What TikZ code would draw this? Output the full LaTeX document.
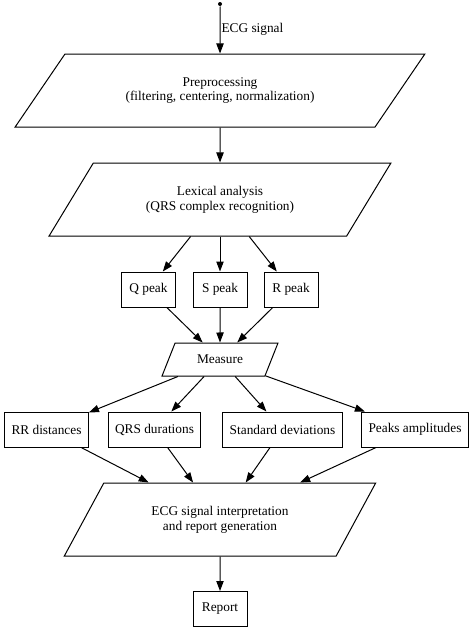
\documentclass[tikz,border=0pt]{standalone}
\usepackage{fontspec}
\setmainfont{Liberation Serif}
\usetikzlibrary{shapes.geometric,arrows.meta}

\tikzset{every picture/.style={line width=0.75pt}}
\tikzset{
  txtfont/.style={font=\fontsize{10}{11}\selectfont},
  flowbox/.style={draw, rectangle, minimum width=40.5pt, minimum height=26.25pt, inner xsep=5.25pt, inner ysep=0pt, txtfont},
  slantbox/.style={draw, trapezium, trapezium stretches=true, inner sep=0pt, align=center, txtfont},
  flowarrow/.style={-{Triangle[length=7.5pt,width=5.5pt]}}
}

\begin{document}
\begin{tikzpicture}[x=0.75pt,y=0.75pt,yscale=-1,xscale=1]
\useasboundingbox (0,0) rectangle (472,628);

%Start point
\node [circle, fill, inner sep=0pt, minimum size=3pt] (src) at (220,4) {};
% Text Node
\node [anchor=west, inner sep=0pt, txtfont] (siglbl) at (221,29) {ECG signal};

%Parallelograms
\node [slantbox, trapezium left angle=41, trapezium right angle=139, minimum width=307.5pt, minimum height=54.75pt] (prep) at (220,90.5) {Preprocessing\\(filtering, centering, normalization)};
\node [slantbox, trapezium left angle=46, trapezium right angle=134, minimum width=256.5pt, minimum height=54.75pt] (lex) at (220,199.5) {Lexical analysis\\(QRS complex recognition)};
\node [slantbox, trapezium left angle=53, trapezium right angle=127, minimum width=87pt, minimum height=24.75pt] (meas) at (220,359.5) {Measure};
\node [slantbox, trapezium left angle=49, trapezium right angle=131, minimum width=234pt, minimum height=54.75pt] (interp) at (220,519.5) {ECG signal interpretation\\and report generation};

%Peak boxes
\node [flowbox] (qpeak) at (148.5,289.5) {Q peak};
\node [flowbox] (speak) at (220,289.5) {S peak};
\node [flowbox] (rpeak) at (291,289.5) {R peak};

%Measure boxes
\node [flowbox] (rrdist) at (46.5,429.5) {RR distances};
\node [flowbox] (qrsdur) at (154.5,429.5) {QRS durations};
\node [flowbox] (stddev) at (282.5,429.5) {Standard deviations};
\node [flowbox] (peakamp) at (415,429.5) {Peaks amplitudes};

%Report
\node [flowbox] (report) at (220,609) {Report};

%Straight Lines
\draw [flowarrow] (src) -- (prep);
\draw [flowarrow] (prep) -- (lex);
\draw [flowarrow] (lex) -- (qpeak);
\draw [flowarrow] (lex) -- (speak);
\draw [flowarrow] (lex) -- (rpeak);
\draw [flowarrow] (qpeak) -- (meas);
\draw [flowarrow] (speak) -- (meas);
\draw [flowarrow] (rpeak) -- (meas);
\draw [flowarrow] (meas) -- (rrdist);
\draw [flowarrow] (meas) -- (qrsdur);
\draw [flowarrow] (meas) -- (stddev);
\draw [flowarrow] (meas) -- (peakamp);
\draw [flowarrow] (rrdist) -- (interp);
\draw [flowarrow] (qrsdur) -- (interp);
\draw [flowarrow] (stddev) -- (interp);
\draw [flowarrow] (peakamp) -- (interp);
\draw [flowarrow] (interp) -- (report);

\end{tikzpicture}
\end{document}
